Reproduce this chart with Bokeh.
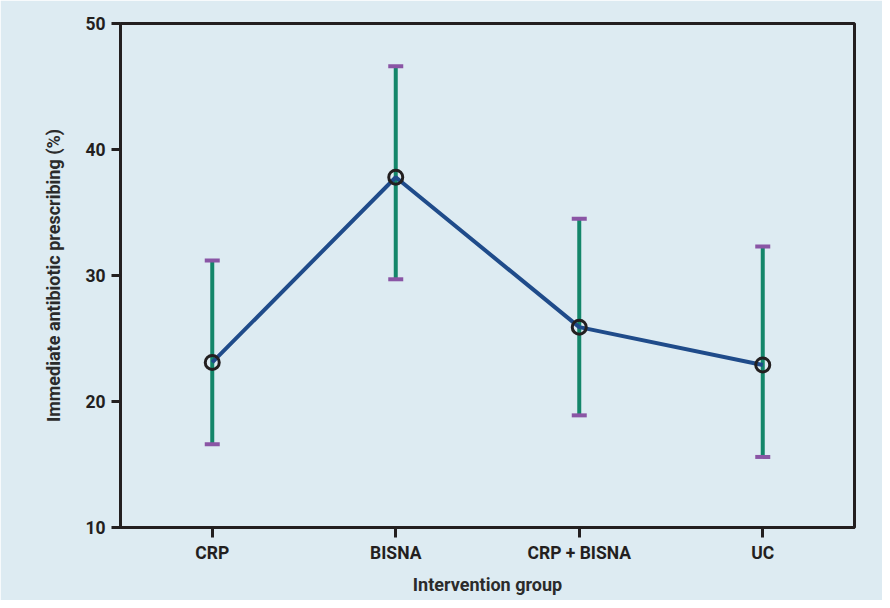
from bokeh.plotting import figure
from bokeh.models import ColumnDataSource, FactorRange, Range1d, Whisker, TeeHead, FixedTicker
from bokeh.embed import file_html
from bokeh.resources import INLINE

groups = ["CRP", "BISNA", "CRP + BISNA", "UC"]
means = [23.1, 37.8, 25.9, 22.9]
lower = [16.6, 29.7, 18.9, 15.6]
upper = [31.2, 46.6, 34.5, 32.3]
y_ticks = [10, 20, 30, 40, 50]

BG = "#ddebf2"
DARK = "#231f20"

src = ColumnDataSource(dict(g=groups, m=means, lo=lower, up=upper))

p = figure(width=882, height=600, x_range=FactorRange(factors=groups, range_padding=0),
           y_range=Range1d(10, 50), output_backend="svg", toolbar_location=None,
           min_border_left=120, min_border_right=28, min_border_top=23, min_border_bottom=73)
p.background_fill_color = BG
p.border_fill_color = BG
p.outline_line_color = DARK
p.outline_line_width = 3
p.grid.visible = False

w = Whisker(source=src, base="g", lower="lo", upper="up", line_color="#13866a", line_width=4,
            upper_head=TeeHead(size=15, line_color="#8a55a5", line_width=4),
            lower_head=TeeHead(size=15, line_color="#8a55a5", line_width=4))
p.add_layout(w)

p.line("g", "m", source=src, line_color="#1f4b8a", line_width=4)
p.scatter("g", "m", source=src, size=14, fill_color=None, line_color=DARK, line_width=3)

for ax in (p.xaxis[0], p.yaxis[0]):
    ax.axis_line_color = DARK
    ax.axis_line_width = 3
    ax.major_tick_line_color = DARK
    ax.major_tick_line_width = 3
    ax.major_tick_in = 0
    ax.minor_tick_line_color = None
    ax.major_label_text_font = "Roboto"
    ax.major_label_text_font_style = "bold"
    ax.major_label_text_font_size = "17.5px"
    ax.major_label_text_color = DARK
    ax.axis_label_text_font = "Roboto"
    ax.axis_label_text_font_style = "bold"
    ax.axis_label_text_font_size = "18px"
    ax.axis_label_text_color = "#2b2b2b"

p.yaxis.ticker = FixedTicker(ticks=y_ticks)
p.yaxis.major_tick_out = 9
p.yaxis.major_label_standoff = 6
p.yaxis.axis_label = "Immediate antibiotic prescribing (%)"
p.yaxis.axis_label_standoff = 18
p.xaxis.major_tick_out = 10
p.xaxis.major_label_standoff = 5
p.xaxis.axis_label = "Intervention group"
p.xaxis.axis_label_standoff = 8

open("out.html", "w").write(file_html(p, INLINE))
